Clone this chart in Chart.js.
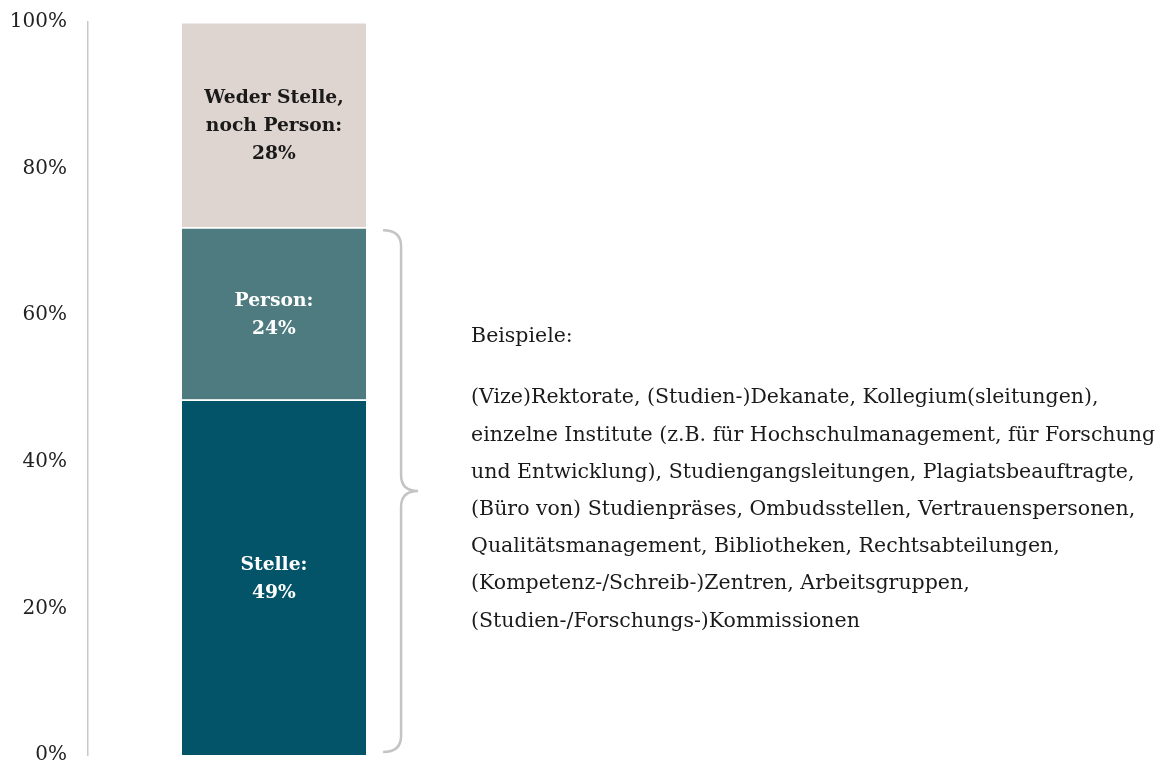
<!DOCTYPE html>
<html>
<head>
<meta charset="utf-8">
<script src="https://cdn.jsdelivr.net/npm/chart.js@4/dist/chart.umd.min.js"></script>
<style>
  html, body { margin: 0; padding: 0; background: #fff; }
  #wrap { width: 1167px; height: 767px; position: relative; }
</style>
</head>
<body>
<div id="wrap"><canvas id="chart"></canvas></div>
<script>
/* Stelle / Person stacked bar */
const categories = ['Antworten'];
const seriesNames = ['Stelle', 'Person', 'Weder Stelle, noch Person'];
const stelleValues = [48.5];
const personValues = [23.5];
const wederValues = [28];
const segmentLabels = [
  ['Stelle:', '49%'],
  ['Person:', '24%'],
  ['Weder Stelle,', 'noch Person:', '28%'],
];
const yTicks = [0, 20, 40, 60, 80, 100];
const noteTitle = 'Beispiele:';
const noteLines = [
  '(Vize)Rektorate, (Studien-)Dekanate, Kollegium(sleitungen),',
  'einzelne Institute (z.B. für Hochschulmanagement, für Forschung',
  'und Entwicklung), Studiengangsleitungen, Plagiatsbeauftragte,',
  '(Büro von) Studienpräses, Ombudsstellen, Vertrauenspersonen,',
  'Qualitätsmanagement, Bibliotheken, Rechtsabteilungen,',
  '(Kompetenz-/Schreib-)Zentren, Arbeitsgruppen,',
  '(Studien-/Forschungs-)Kommissionen',
];

const SERIF = "'DejaVu Serif', 'Liberation Serif', serif";
const COLORS = ['#035468', '#4e7b7f', '#ded4d0'];
const LABEL_COLORS = ['#ffffff', '#ffffff', '#1a1a1a'];

const segmentLabelPlugin = {
  id: 'segmentLabels',
  afterDatasetsDraw(chart) {
    const ctx = chart.ctx;
    ctx.save();
    ctx.font = `bold 18.7px ${SERIF}`;
    ctx.textAlign = 'center';
    ctx.textBaseline = 'middle';
    chart.data.datasets.forEach((ds, i) => {
      const bar = chart.getDatasetMeta(i).data[0];
      const lines = segmentLabels[i];
      const cy = (bar.y + bar.base) / 2 + 2;
      const lh = 28;
      ctx.fillStyle = LABEL_COLORS[i];
      lines.forEach((t, k) => {
        ctx.fillText(t, bar.x, cy + (k - (lines.length - 1) / 2) * lh);
      });
    });
    ctx.restore();
  },
};

const bracePlugin = {
  id: 'brace',
  afterDraw(chart) {
    const ctx = chart.ctx;
    const y = chart.scales.y;
    const bar = chart.getDatasetMeta(0).data[0];
    const right = bar.x + bar.width / 2;
    const top = y.getPixelForValue(stelleValues[0] + personValues[0]) + 3;
    const bottom = y.getPixelForValue(0) - 3;
    const mid = (top + bottom) / 2;
    const x0 = right + 17, x1 = right + 35, x2 = right + 52, r = 16;

    ctx.save();
    ctx.strokeStyle = '#c4c4c4';
    ctx.lineWidth = 2.5;
    ctx.beginPath();
    ctx.moveTo(x0, top);
    ctx.quadraticCurveTo(x1, top, x1, top + r);
    ctx.lineTo(x1, mid - r);
    ctx.quadraticCurveTo(x1, mid, x2, mid);
    ctx.quadraticCurveTo(x1, mid, x1, mid + r);
    ctx.lineTo(x1, bottom - r);
    ctx.quadraticCurveTo(x1, bottom, x0, bottom);
    ctx.stroke();

    // note text
    const tx = right + 105;
    ctx.fillStyle = '#1a1a1a';
    ctx.font = `20.5px ${SERIF}`;
    ctx.textAlign = 'left';
    ctx.textBaseline = 'middle';
    ctx.fillText(noteTitle, tx, mid - 154);
    noteLines.forEach((t, k) => ctx.fillText(t, tx, mid - 93 + k * 37.2));
    ctx.restore();
  },
};

new Chart(document.getElementById('chart'), {
  type: 'bar',
  data: {
    labels: categories,
    datasets: [stelleValues, personValues, wederValues].map((vals, i) => ({
      label: seriesNames[i],
      data: vals,
      backgroundColor: COLORS[i],
      borderColor: '#ffffff',
      borderWidth: { top: 1.5, bottom: 0, left: 0, right: 0 },
      borderSkipped: false,
      barPercentage: 0.495,
      categoryPercentage: 1,
    })),
  },
  options: {
    responsive: true,
    maintainAspectRatio: false,
    animation: false,
    layout: { padding: { left: 0, right: 707, top: 22, bottom: 12 } },
    plugins: {
      legend: { display: false },
      tooltip: { enabled: false },
    },
    scales: {
      x: {
        stacked: true,
        display: false,
      },
      y: {
        stacked: true,
        min: 0,
        max: 100,
        afterBuildTicks: axis => { axis.ticks = yTicks.map(v => ({ value: v })); },
        afterFit: axis => {
          axis.width = 88;
          axis.paddingTop = 0;
          axis.paddingBottom = 0;
        },
        grid: { display: false },
        border: { display: true, color: '#c8c8c8', width: 1.5 },
        ticks: {
          color: '#222',
          padding: 13,
          font: { family: SERIF, size: 20 },
          callback: v => v + '%',
        },
      },
    },
  },
  plugins: [segmentLabelPlugin, bracePlugin],
});
</script>
</body>
</html>
